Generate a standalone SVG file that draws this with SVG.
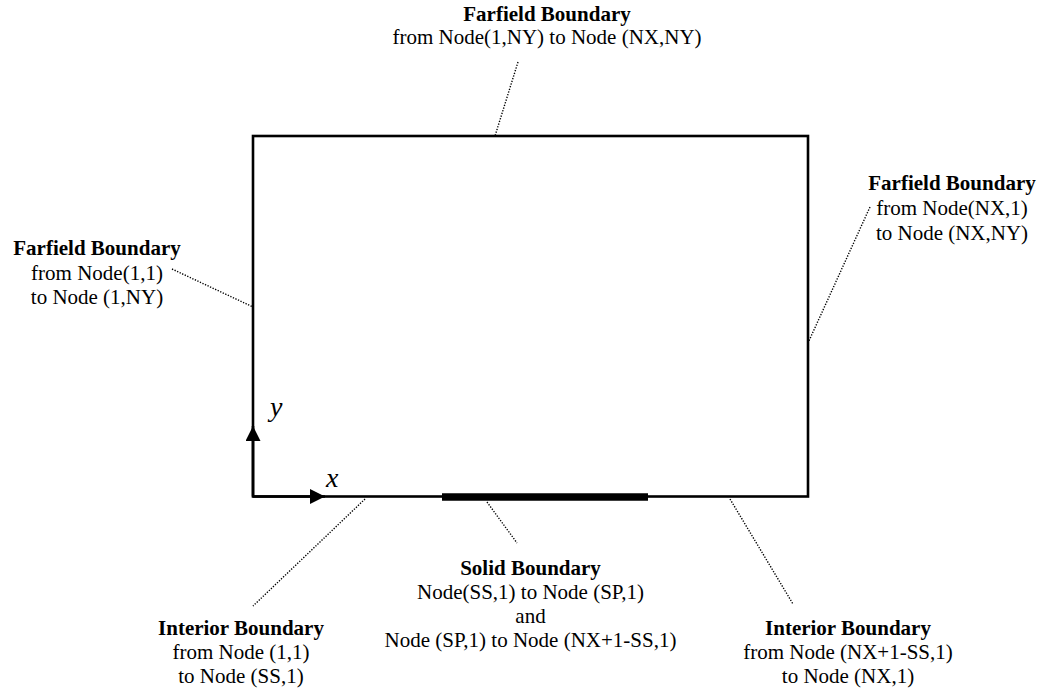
<svg xmlns="http://www.w3.org/2000/svg" width="1051" height="694" viewBox="0 0 1051 694" font-family="'Liberation Serif', 'Times New Roman', Times, serif">
  <style>
    text { font-family: 'Liberation Serif', 'Times New Roman', Times, serif; font-size: 21px; fill: #000; text-anchor: middle; }
    .b { font-weight: bold; }
    .ax { font-style: italic; font-size: 28px; text-anchor: start; }
    .edge { fill: none; stroke: #000; stroke-width: 2.6; }
    .lead { fill: none; stroke: #000; stroke-width: 1.4; stroke-dasharray: 1.3 1.5; }
  </style>
  <defs>
    <marker id="arr" viewBox="0 0 10 10" refX="10" refY="5" markerWidth="16" markerHeight="15" markerUnits="userSpaceOnUse" orient="auto">
      <path d="M0,0 L10,5 L0,10 Z" fill="#000"/>
    </marker>
  </defs>

  <!-- computational domain with the solid wall segment on the lower edge -->
  <g id="domain">
    <rect class="edge" x="253" y="136" width="555" height="360.5"/>
    <line x1="442" y1="497" x2="648" y2="497" stroke="#000" stroke-width="7.5"/>
  </g>

  <!-- coordinate axes -->
  <g id="axes">
    <line x1="253" y1="496.5" x2="253" y2="426" stroke="#000" stroke-width="2.6" marker-end="url(#arr)"/>
    <line x1="253" y1="496.5" x2="325" y2="496.5" stroke="#000" stroke-width="2.6" marker-end="url(#arr)"/>
    <text class="ax" x="270" y="416">y</text>
    <text class="ax" x="326" y="487">x</text>
  </g>

  <!-- dotted leader lines from labels to boundary segments -->
  <g id="connectors">
    <line class="lead" x1="518" y1="62" x2="495" y2="136"/>
    <line class="lead" x1="172" y1="269" x2="253" y2="307"/>
    <line class="lead" x1="870" y1="207" x2="808" y2="343"/>
    <line class="lead" x1="365" y1="499" x2="253" y2="606"/>
    <line class="lead" x1="487" y1="502" x2="517" y2="543"/>
    <line class="lead" x1="730" y1="499" x2="793" y2="604"/>
  </g>

  <g id="farfield-top">
    <text class="b" x="547" y="21">Farfield Boundary</text>
    <text x="547" y="44">from Node(1,NY) to Node (NX,NY)</text>
  </g>

  <g id="farfield-left">
    <text class="b" x="97" y="255">Farfield Boundary</text>
    <text x="97" y="280">from Node(1,1)</text>
    <text x="97" y="304">to Node (1,NY)</text>
  </g>

  <g id="farfield-right">
    <text class="b" x="952" y="190">Farfield Boundary</text>
    <text x="952" y="215">from Node(NX,1)</text>
    <text x="952" y="240">to Node (NX,NY)</text>
  </g>

  <g id="interior-left">
    <text class="b" x="241" y="635">Interior Boundary</text>
    <text x="241" y="659">from Node (1,1)</text>
    <text x="241" y="683">to Node (SS,1)</text>
  </g>

  <g id="solid">
    <text class="b" x="530.5" y="575">Solid Boundary</text>
    <text x="530.5" y="599">Node(SS,1) to Node (SP,1)</text>
    <text x="530.5" y="623">and</text>
    <text x="530.5" y="647">Node (SP,1) to Node (NX+1-SS,1)</text>
  </g>

  <g id="interior-right">
    <text class="b" x="848" y="635">Interior Boundary</text>
    <text x="848" y="659">from Node (NX+1-SS,1)</text>
    <text x="848" y="683">to Node (NX,1)</text>
  </g>
</svg>
